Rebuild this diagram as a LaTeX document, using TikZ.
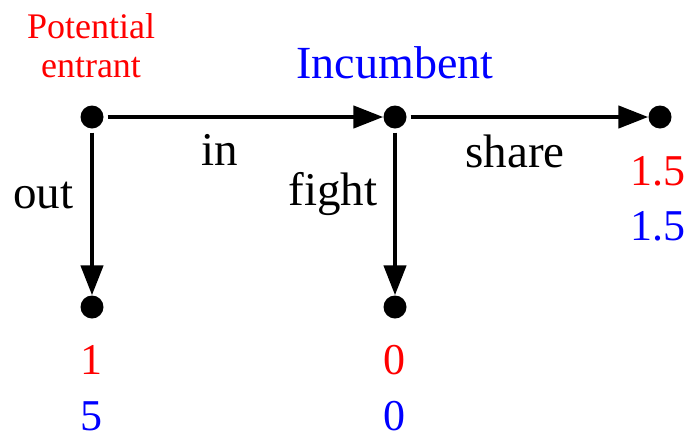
\documentclass[tikz,border=0pt]{standalone}
\usepackage{fontspec}
\setmainfont{Liberation Serif}
\usetikzlibrary{arrows.meta}

\begin{document}
\begin{tikzpicture}[x=1pt, y=-1pt,
		dot/.style={circle, fill, inner sep=0pt, minimum size=23pt},
		move/.style={-{Triangle[length=30pt, width=22pt]}, line width=4.5pt, shorten <=4pt},
		lbl/.style={anchor=base, inner sep=0pt, font=\fontsize{47}{50}\selectfont},
		pay/.style={anchor=base, inner sep=0pt, font=\fontsize{44}{48}\selectfont}]
		\useasboundingbox (0, 0) rectangle (688, 437);
		\node [dot] (root) at (92, 117) {};
		\node [dot] (inc) at (395, 117) {};
		\node [dot] (sh) at (660, 117) {};
		\node [dot] (o) at (92, 307) {};
		\node [dot] (f) at (395, 307) {};
		\draw [move] (root) -- (inc);
		\draw [move] (inc) -- (sh);
		\draw [move] (root) -- (o);
		\draw [move] (inc) -- (f);
		\node [anchor=base, inner sep=0pt, red, align=center, font=\fontsize{36}{39}\selectfont] (entrant) at (91, 77) {Potential\\entrant};
		\node [anchor=base, inner sep=0pt, blue, font=\fontsize{46}{50}\selectfont] (incumbent) at (395, 78) {Incumbent};
		\node [lbl] (in) at (220, 165) {in};
		\node [lbl] (share) at (515, 167) {share};
		\node [lbl] (out) at (43.5, 208) {out};
		\node [lbl] (fight) at (333, 205) {fight};
		\node [pay, red] (shA) at (658, 185) {1.5};
		\node [pay, blue] (shB) at (658, 240) {1.5};
		\node [pay, red] (oA) at (91, 374) {1};
		\node [pay, blue] (oB) at (91, 430) {5};
		\node [pay, red] (fA) at (394, 374) {0};
		\node [pay, blue] (fB) at (394, 430) {0};
	\end{tikzpicture}
\end{document}
